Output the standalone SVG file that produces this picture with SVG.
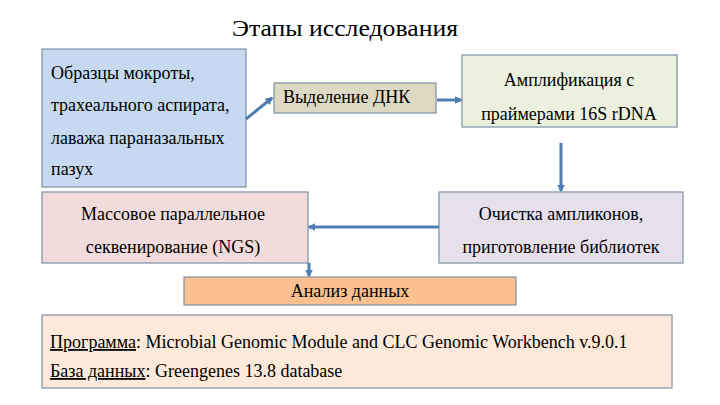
<svg xmlns="http://www.w3.org/2000/svg" width="720" height="405" viewBox="0 0 720 405" font-family="'Liberation Serif', 'Times New Roman', serif">
<style>
  .t { font-size: 18px; }
  .c { text-anchor: middle; }
  .box { stroke: #7f8fa6; stroke-width: 1.2; }
  .con { stroke: #4f7db3; stroke-width: 3; fill: none; }
</style>
<defs>
  <marker id="ah" viewBox="0 0 10 10" refX="8" refY="5" markerWidth="2.6" markerHeight="2.6" orient="auto" markerUnits="strokeWidth">
    <path d="M0,0 L10,5 L0,10 z" fill="#4f7db3"/>
  </marker>
</defs>
<rect width="720" height="405" fill="#fff"/>
<text x="232" y="36" font-size="24" textLength="226" lengthAdjust="spacingAndGlyphs">Этапы исследования</text>

<g id="samples">
  <rect x="42" y="49" width="204" height="138" fill="#c6d9f0" class="box"/>
  <text x="51" y="79" class="t">Образцы мокроты,</text>
  <text x="51" y="111" class="t">трахеального аспирата,</text>
  <text x="51" y="144" class="t">лаважа параназальных</text>
  <text x="51" y="175" class="t">пазух</text>
</g>
<g id="dna">
  <rect x="274" y="83" width="162" height="30" fill="#ddd9c3" class="box"/>
  <text x="283" y="103" class="t">Выделение ДНК</text>
</g>
<g id="ampl">
  <rect x="462" y="55" width="215" height="72" fill="#ebf1de" class="box"/>
  <text x="569" y="86" class="t c">Амплификация с</text>
  <text x="569" y="120" class="t c">праймерами 16S rDNA</text>
</g>
<g id="purif">
  <rect x="439" y="192" width="244" height="71" fill="#e6e0ec" class="box"/>
  <text x="561" y="220" class="t c">Очистка ампликонов,</text>
  <text x="561" y="253" class="t c">приготовление библиотек</text>
</g>
<g id="ngs">
  <rect x="42" y="192" width="266" height="71" fill="#f2dcdb" class="box"/>
  <text x="173" y="220" class="t c">Массовое параллельное</text>
  <text x="173" y="253" class="t c">секвенирование (NGS)</text>
</g>
<g id="analysis">
  <rect x="184" y="277" width="332" height="28" fill="#fac090" class="box"/>
  <text x="350" y="297" class="t c">Анализ данных</text>
</g>
<g id="info">
  <rect x="42" y="315" width="630" height="73" fill="#fde9d9" class="box"/>
  <text x="50" y="348" font-size="18"><tspan text-decoration="underline">Программа</tspan>: Microbial Genomic Module and CLC Genomic Workbench v.9.0.1</text>
  <text x="50" y="377" font-size="18"><tspan text-decoration="underline">База данных</tspan>: Greengenes 13.8 database</text>
</g>

<g id="connectors">
  <line x1="246" y1="119" x2="272" y2="98" class="con" marker-end="url(#ah)"/>
  <line x1="437" y1="100" x2="461" y2="100" class="con" marker-end="url(#ah)"/>
  <line x1="561" y1="143" x2="561" y2="191" class="con" marker-end="url(#ah)"/>
  <line x1="439" y1="227" x2="309" y2="227" class="con" marker-end="url(#ah)"/>
  <line x1="309" y1="263" x2="309" y2="276" class="con" marker-end="url(#ah)"/>
</g>
</svg>
